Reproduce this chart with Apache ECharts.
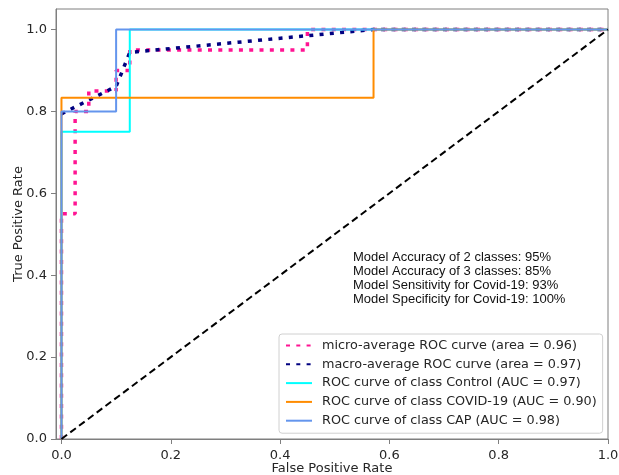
<!DOCTYPE html>
<html>
<head>
<meta charset="utf-8">
<script src="https://cdn.jsdelivr.net/npm/echarts@6/dist/echarts.min.js"></script>
<style>html,body{margin:0;padding:0;background:#fff;}#c{width:619px;height:475px;}</style>
</head>
<body>
<div id="c"></div>
<script>
// ---- data ----
const tickValues = [0, 0.2, 0.4, 0.6, 0.8, 1.0];

const microFpr = [0, 0, 0.025, 0.025, 0.05, 0.05, 0.1, 0.1, 0.125, 0.125, 0.45, 0.45, 1];
const microTpr = [0, 0.55, 0.55, 0.8, 0.8, 0.85, 0.85, 0.9, 0.9, 0.95, 0.95, 1, 1];

const macroFpr = [0, 0.1, 0.125, 0.571, 1];
const macroTpr = [0.794, 0.861, 0.944, 1, 1];

const controlFpr = [0, 0, 0.125, 0.125, 1];
const controlTpr = [0, 0.75, 0.75, 1, 1];

const covidFpr = [0, 0, 0.571, 0.571, 1];
const covidTpr = [0, 0.833, 0.833, 1, 1];

const capFpr = [0, 0, 0.1, 0.1, 1];
const capTpr = [0, 0.8, 0.8, 1, 1];

const diagFpr = [0, 1];
const diagTpr = [0, 1];

const seriesNames = [
  'micro-average ROC curve (area = 0.96)',
  'macro-average ROC curve (area = 0.97)',
  'ROC curve of class Control (AUC = 0.97)',
  'ROC curve of class COVID-19 (AUC = 0.90)',
  'ROC curve of class CAP (AUC = 0.98)'
];

const infoLines = [
  'Model Accuracy of 2 classes: 95%',
  'Model Accuracy of 3 classes: 85%',
  'Model Sensitivity for Covid-19: 93%',
  'Model Specificity for Covid-19: 100%'
];

function pairs(xs, ys) { return xs.map((x, i) => [x, ys[i]]); }

const chart = echarts.init(document.getElementById('c'), null, {renderer: 'canvas'});
const axisFont = 'DejaVu Sans';
const spine = '#7f7f7f';

function lineSeries(name, xs, ys, color, width, type, z) {
  return {
    name: name, type: 'line', data: pairs(xs, ys),
    showSymbol: false, symbol: 'none', animation: false, z: z,
    lineStyle: {color: color, width: width, type: type, cap: 'butt'},
    itemStyle: {color: color, opacity: 0}
  };
}

chart.setOption({
  animation: false,
  grid: {left: 56, right: 11, top: 9, bottom: 36, show: true, borderColor: spine, borderWidth: 1,
    containLabel: false, outerBoundsMode: 'none'},
  xAxis: {
    type: 'value', min: -0.01, max: 1.0,
    name: 'False Positive Rate', nameLocation: 'middle', nameGap: 23, nameMoveOverlap: false,
    nameTextStyle: {fontFamily: axisFont, fontSize: 13, color: '#262626'},
    axisLine: {show: true, onZero: false, lineStyle: {color: spine}},
    axisTick: {show: true, length: 5, lineStyle: {color: spine}, customValues: tickValues},
    axisLabel: {customValues: tickValues, fontFamily: axisFont, fontSize: 13, color: '#262626', margin: 10,
      formatter: v => v.toFixed(1)},
    splitLine: {show: false}
  },
  yAxis: {
    type: 'value', min: 0, max: 1.05,
    name: 'True Positive Rate', nameLocation: 'middle', nameGap: 31, nameMoveOverlap: false,
    nameTextStyle: {fontFamily: axisFont, fontSize: 13, color: '#262626'},
    axisLine: {show: true, onZero: false, lineStyle: {color: spine}},
    axisTick: {show: true, length: 5, lineStyle: {color: spine}, customValues: tickValues},
    axisLabel: {customValues: tickValues, fontFamily: axisFont, fontSize: 13, color: '#262626', margin: 9,
      formatter: v => v.toFixed(1)},
    splitLine: {show: false}
  },
  legend: {
    orient: 'vertical', left: 279, top: 334,
    data: seriesNames,
    padding: [5, 6, 6, 6], itemGap: 5.8, itemWidth: 26, itemHeight: 14,
    backgroundColor: 'rgba(255,255,255,0.8)', borderColor: '#d0d0d0', borderWidth: 1, borderRadius: 3,
    textStyle: {fontFamily: axisFont, fontSize: 12.8, color: '#262626', padding: [0, 0, 0, 5]},
    selectedMode: false
  },
  graphic: [{
    type: 'text', left: 353, top: 250, z: 100,
    style: {text: infoLines.join('\n'), font: '13px "Liberation Sans"', fill: '#111', lineHeight: 14.2}
  }],
  series: [
    lineSeries(seriesNames[0], microFpr, microTpr, '#ff1493', 3.5, [4, 6.3], 2),
    lineSeries(seriesNames[1], macroFpr, macroTpr, '#000080', 3.5, [4, 6.3], 3),
    lineSeries(seriesNames[2], controlFpr, controlTpr, '#00ffff', 2, 'solid', 4),
    lineSeries(seriesNames[3], covidFpr, covidTpr, '#ff8c00', 2, 'solid', 5),
    lineSeries(seriesNames[4], capFpr, capTpr, '#6495ed', 2, 'solid', 6),
    lineSeries('diag', diagFpr, diagTpr, '#000000', 2, [7, 4], 7)
  ]
});
</script>
</body>
</html>
